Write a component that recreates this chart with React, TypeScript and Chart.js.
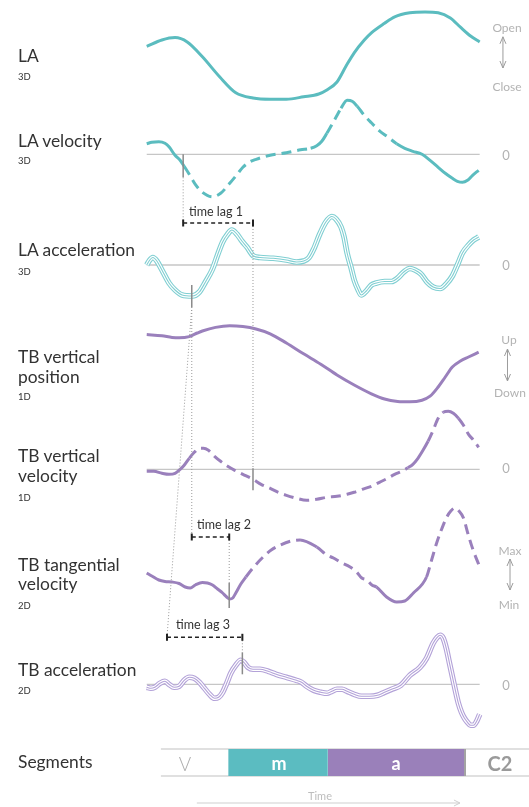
import React, { useEffect, useRef } from "react";
import { Chart, registerables } from "chart.js";

Chart.register(...registerables);

const WIDTH = 529;
const HEIGHT = 807;
const FONT = "Lato, 'Noto Sans', sans-serif";

// ---------- series data (time in ms, values in panel units) ----------
const laT = [0, 30, 56, 80, 110, 144, 176, 210, 244, 276, 310, 340, 356, 376, 394, 410, 430, 444, 470, 490, 520, 550, 576, 600, 620, 640, 658];
const laV = [6.7, 7.5, 7.8, 7.25, 5.4, 2.9, 0.9, 0.25, 0.1, 0.1, 0.4, 0.75, 1.25, 2.25, 4.25, 5.9, 7.5, 8.4, 9.6, 10.4, 10.9, 11.0, 10.9, 10.25, 9.1, 8.0, 7.25];

const laVelT = [0, 10, 24, 36, 44, 56, 66, 74, 84, 96, 110, 130, 146, 164, 178, 190, 204, 216, 244, 276, 304, 324, 336, 346, 356, 364, 374, 384, 396, 406, 416, 430, 444, 460, 476, 494, 510, 526, 544, 560, 576, 590, 604, 614, 624, 634, 644, 656];
const laVelV = [1.05, 1.2, 1.25, 1.1, 0.75, -0.1, -0.6, -1.2, -2.0, -3.0, -3.8, -4.25, -3.9, -2.9, -2.05, -1.3, -0.75, -0.5, -0.1, 0.15, 0.45, 0.6, 0.85, 1.3, 2.1, 2.8, 3.7, 4.6, 5.4, 5.3, 4.8, 3.9, 3.15, 2.35, 1.75, 1.05, 0.6, 0.3, 0.0, -0.6, -1.3, -1.9, -2.4, -2.7, -2.8, -2.6, -2.1, -1.6];
const laVelDashed = [[72, 316], [356, 382], [422, 500]];

const laAccT = [0, 6, 12, 20, 30, 44, 56, 70, 90, 104, 116, 130, 140, 150, 160, 168, 178, 188, 198, 211, 224, 250, 276, 296, 310, 320, 330, 342, 354, 366, 374, 384, 390, 396, 404, 410, 418, 424, 434, 444, 454, 470, 484, 496, 508, 520, 530, 542, 554, 566, 580, 592, 604, 614, 624, 636, 646, 656];
const laAccV = [0.0, 0.5, 0.75, 0.4, -0.5, -1.8, -2.5, -3.0, -3.1, -2.7, -1.7, -0.4, 1.0, 2.3, 3.1, 3.5, 3.1, 2.4, 1.8, 0.9, 0.75, 0.67, 0.5, 0.3, 0.4, 0.7, 1.6, 3.1, 4.3, 4.85, 4.6, 3.8, 2.8, 1.2, -0.3, -1.5, -2.5, -3.0, -2.6, -2.0, -1.8, -1.65, -1.65, -1.3, -0.7, -0.35, -0.5, -0.9, -1.7, -2.2, -2.35, -1.9, -1.1, 0.0, 1.2, 2.0, 2.5, 2.8];

const tbPosT = [0, 30, 50, 64, 84, 100, 110, 136, 164, 190, 216, 244, 276, 310, 344, 376, 410, 444, 470, 496, 520, 544, 560, 576, 590, 604, 620, 636, 656];
const tbPosV = [8.8, 8.65, 8.45, 8.4, 8.55, 9.0, 9.25, 9.7, 9.9, 9.8, 9.5, 8.9, 7.75, 6.4, 5.1, 3.75, 2.5, 1.4, 0.75, 0.45, 0.4, 0.6, 1.1, 2.25, 3.5, 4.75, 5.5, 6.0, 6.6];

const tbVelT = [0, 14, 30, 44, 56, 66, 74, 84, 94, 104, 112, 122, 134, 146, 160, 174, 190, 210, 226, 244, 260, 276, 296, 316, 336, 356, 376, 396, 410, 426, 444, 460, 476, 490, 504, 516, 526, 536, 546, 556, 566, 576, 586, 596, 606, 616, 626, 636, 646, 656];
const tbVelV = [-0.2, -0.2, -0.4, -0.5, -0.4, 0.0, 0.4, 1.1, 1.7, 2.1, 2.1, 1.9, 1.3, 0.8, 0.3, -0.1, -0.5, -1.0, -1.5, -1.9, -2.3, -2.6, -2.9, -3.1, -3.0, -2.8, -2.7, -2.5, -2.3, -2.0, -1.7, -1.3, -0.9, -0.5, -0.2, 0.15, 0.5, 1.1, 1.9, 2.8, 3.9, 5.1, 5.7, 5.8, 5.6, 5.1, 4.4, 3.5, 2.9, 2.2];
const tbVelDashed = [[84, 520], [553, 586], [619, 660]];

const tbTanT = [0, 10, 24, 36, 50, 64, 76, 86, 96, 110, 120, 130, 140, 150, 158, 164, 170, 176, 186, 196, 210, 230, 246, 264, 286, 303, 336, 356, 369, 382, 402, 415, 425, 435, 445, 454, 474, 494, 510, 527, 553, 563, 573, 583, 593, 601, 609, 617, 626, 635, 645, 659];
const tbTanV = [3.2, 2.9, 2.5, 2.35, 2.3, 2.15, 1.8, 1.7, 2.0, 2.25, 2.2, 2.0, 1.6, 1.2, 0.8, 0.6, 0.7, 1.2, 2.1, 2.8, 3.7, 4.8, 5.5, 6.0, 6.4, 6.5, 5.8, 5.0, 4.7, 4.3, 3.8, 3.3, 2.7, 2.5, 2.0, 1.8, 0.8, 0.3, 0.4, 1.2, 2.8, 4.5, 6.2, 7.6, 8.8, 9.4, 9.7, 9.4, 8.7, 7.1, 5.5, 3.7];
const tbTanDashed = [[196, 303], [336, 454], [553, 660]];

const tbAccT = [0, 8, 16, 26, 36, 44, 54, 64, 74, 84, 94, 104, 114, 124, 134, 142, 150, 158, 166, 176, 186, 192, 200, 210, 224, 240, 256, 276, 296, 306, 316, 330, 344, 356, 366, 376, 386, 396, 410, 424, 440, 456, 470, 484, 502, 520, 540, 553, 566, 574, 580, 586, 592, 598, 604, 610, 616, 622, 628, 634, 640, 646, 652, 658];
const tbAccV = [-0.3, -0.4, -0.3, 0.1, 0.3, 0.0, -0.3, -0.2, 0.4, 0.7, 0.6, 0.2, -0.4, -1.0, -1.4, -1.3, -0.8, 0.1, 1.1, 1.9, 2.4, 2.2, 1.7, 1.5, 1.5, 1.3, 1.0, 0.7, 0.4, 0.2, -0.2, -0.6, -0.8, -0.9, -0.7, -0.5, -0.5, -0.7, -1.0, -1.2, -1.2, -1.1, -0.8, -0.5, -0.1, 0.9, 1.7, 2.6, 4.1, 4.7, 4.9, 4.6, 3.6, 2.2, 0.8, -0.6, -1.9, -2.8, -3.4, -3.8, -4.1, -4.1, -3.7, -3.0];

const zeroSpan = [0, 658];

// segments (time boundaries) and names
const segBounds = [28, 161, 358, 629, 755.5];
const segNames = ["V", "m", "a", "C2"];
const timeArrowSpan = [99, 619];

// time-lag annotations
const markers = [
  { t: 72, axis: "yLAv", from: 0, to: -2.3 },
  { t: 89, axis: "yLAa", from: -2.0, to: -4.2 },
  { t: 210, axis: "yTBv", from: 0.1, to: -2.1 },
  { t: 163, axis: "yTBt", from: 2.2, to: -0.3 },
  { t: 189, axis: "yTBa", from: 3.2, to: 1.0 },
];
const connectors = [
  { a: [72, "yLAv", -2.3], b: [72, "yLAa", 4.2] },
  { a: [210, "yLAa", 4.2], b: [210, "yTBv", 0.1] },
  { a: [89, "yLAa", -4.2], b: [89, "yTBt", 6.8] },
  { a: [89, "yLAa", -4.2], b: [40, "yTBa", 4.7] },
  { a: [163, "yTBt", 6.8], b: [163, "yTBt", 2.2] },
  { a: [189, "yTBa", 4.7], b: [189, "yTBa", 3.2] },
];
const lagBrackets = [
  { t0: 72, t1: 210, axis: "yLAa", v: 4.2 },
  { t0: 89, t1: 163, axis: "yTBt", v: 6.8 },
  { t0: 40, t1: 189, axis: "yTBa", v: 4.7 },
];
const rangeArrows = [
  { t: 704, axis: "yLA", top: 7.9, bottom: 4.0 },
  { t: 713, axis: "yTBp", top: 7.0, bottom: 3.0 },
  { t: 718, axis: "yTBt", top: 4.6, bottom: 1.5 },
];

// text
const leftLabels = [
  { text: "LA", y: 56, size: 17.4 },
  { text: "3D", y: 77, size: 9.5 },
  { text: "LA velocity", y: 141, size: 17.4 },
  { text: "3D", y: 161, size: 9.5 },
  { text: "LA acceleration", y: 250, size: 17.4 },
  { text: "3D", y: 272, size: 9.5 },
  { text: "TB vertical", y: 357, size: 17.4 },
  { text: "position", y: 377, size: 17.4 },
  { text: "1D", y: 397, size: 9.5 },
  { text: "TB vertical", y: 456, size: 17.4 },
  { text: "velocity", y: 476, size: 17.4 },
  { text: "1D", y: 498, size: 9.5 },
  { text: "TB tangential", y: 565, size: 17.4 },
  { text: "velocity", y: 584, size: 17.4 },
  { text: "2D", y: 606, size: 9.5 },
  { text: "TB acceleration", y: 670, size: 17.4 },
  { text: "2D", y: 691, size: 9.5 },
  { text: "Segments", y: 762, size: 17.4 },
];
const rightLabels = [
  { text: "Open", x: 507, y: 28 },
  { text: "Close", x: 507, y: 87 },
  { text: "0", x: 506, y: 155 },
  { text: "0", x: 506, y: 265 },
  { text: "Up", x: 509, y: 340 },
  { text: "Down", x: 510, y: 393 },
  { text: "0", x: 506, y: 468 },
  { text: "Max", x: 510, y: 551 },
  { text: "Min", x: 509, y: 605 },
  { text: "0", x: 506, y: 685 },
];
const lagLabels = [
  { text: "time lag 1", x: 189, y: 212 },
  { text: "time lag 2", x: 197, y: 525 },
  { text: "time lag 3", x: 176, y: 625 },
];

// ---------- colours ----------
const TEAL = "#5bbcbf";
const PURPLE = "#9a80bc";
const TEAL_LIGHT = "#80cfd2";
const PURPLE_LIGHT = "#b3a2d8";

const pts = (ts: number[], vs: number[]) => ts.map((t, i) => ({ x: t, y: vs[i] }));
const band = (zeroPx: number, pxPerUnit: number) => ({
  type: "linear" as const,
  display: false,
  min: (zeroPx - HEIGHT) / pxPerUnit,
  max: zeroPx / pxPerUnit,
});

const dashIn = (ranges: number[][]) => ({
  borderDash: (c: any) => {
    const m = (c.p0.parsed.x + c.p1.parsed.x) / 2;
    return ranges.some(([a, b]) => m >= a && m <= b) ? [10, 6] : undefined;
  },
});

const curve = (data: any[], axis: string, color: string, width: number, order: number, extra: any = {}) => ({
  type: "line" as const,
  data,
  yAxisID: axis,
  borderColor: color,
  borderWidth: width,
  pointRadius: 0,
  fill: false,
  cubicInterpolationMode: "monotone" as const,
  borderCapStyle: "butt" as const,
  borderJoinStyle: "round" as const,
  order,
  ...extra,
});

const triple = (data: any[], axis: string, color: string) => [
  curve(data, axis, color, 5.6, 4),
  curve(data, axis, "#ffffff", 3.4, 3),
  curve(data, axis, color, 1.1, 2),
];

const zeroLine = (axis: string) =>
  curve(
    [
      { x: zeroSpan[0], y: 0 },
      { x: zeroSpan[1], y: 0 },
    ],
    axis,
    "#c6c6c6",
    1.3,
    50
  );

const decorPlugin = {
  id: "decor",
  afterDatasetsDraw(chart: any) {
    const { ctx, scales } = chart;
    const px = (t: number) => scales.x.getPixelForValue(t);
    const py = (axis: string, v: number) => scales[axis].getPixelForValue(v);
    const seg = (x0: number, y0: number, x1: number, y1: number) => {
      ctx.beginPath();
      ctx.moveTo(x0, y0);
      ctx.lineTo(x1, y1);
      ctx.stroke();
    };
    ctx.save();
    // dotted connectors
    ctx.strokeStyle = "#9a9a9a";
    ctx.lineWidth = 1;
    ctx.setLineDash([1, 2]);
    for (const c of connectors) {
      seg(px(c.a[0] as number), py(c.a[1] as string, c.a[2] as number), px(c.b[0] as number), py(c.b[1] as string, c.b[2] as number));
    }
    // markers
    ctx.setLineDash([]);
    ctx.strokeStyle = "#8a8a8a";
    ctx.lineWidth = 1.5;
    for (const m of markers) {
      seg(px(m.t), py(m.axis, m.from), px(m.t), py(m.axis, m.to));
    }
    // lag brackets
    ctx.strokeStyle = "#222222";
    for (const b of lagBrackets) {
      const y = py(b.axis, b.v);
      const x0 = px(b.t0);
      const x1 = px(b.t1);
      ctx.lineWidth = 1.5;
      ctx.setLineDash([4, 3]);
      seg(x0, y, x1, y);
      ctx.setLineDash([]);
      ctx.lineWidth = 2;
      seg(x0, y - 3.5, x0, y + 3.5);
      seg(x1, y - 3.5, x1, y + 3.5);
    }
    // range double arrows
    ctx.strokeStyle = "#9c9c9c";
    ctx.lineWidth = 1;
    for (const a of rangeArrows) {
      const x = px(a.t);
      const y0 = py(a.axis, a.top);
      const y1 = py(a.axis, a.bottom);
      seg(x, y0, x, y1);
      ctx.beginPath();
      ctx.moveTo(x - 3, y0 + 7);
      ctx.lineTo(x, y0);
      ctx.lineTo(x + 3, y0 + 7);
      ctx.stroke();
      ctx.beginPath();
      ctx.moveTo(x - 3, y1 - 7);
      ctx.lineTo(x, y1);
      ctx.lineTo(x + 3, y1 - 7);
      ctx.stroke();
    }
    // time arrow
    ctx.strokeStyle = "#cfcfcf";
    const ty = py("ySeg", -1);
    const tx0 = px(timeArrowSpan[0]);
    const tx1 = px(timeArrowSpan[1]);
    seg(tx0, ty, tx1, ty);
    ctx.beginPath();
    ctx.moveTo(tx1 - 6, ty - 3);
    ctx.lineTo(tx1, ty);
    ctx.lineTo(tx1 - 6, ty + 3);
    ctx.stroke();
    ctx.restore();
  },
};

const Txt = ({ x, y, size, color, weight = 400, center = false, children }: any) => (
  <div
    style={{
      position: "absolute",
      left: x,
      top: y,
      transform: center ? "translate(-50%, -50%)" : "translateY(-50%)",
      fontSize: size,
      lineHeight: 1,
      color,
      fontWeight: weight,
      whiteSpace: "nowrap",
      fontFamily: FONT,
    }}
  >
    {children}
  </div>
);

export default function App() {
  const canvasRef = useRef<HTMLCanvasElement | null>(null);

  useEffect(() => {
    if (!canvasRef.current) return;
    const segBox = (i: number, color: string) =>
      curve(
        [
          { x: segBounds[i], y: 1 },
          { x: segBounds[i + 1], y: 1 },
        ],
        "ySeg",
        "rgba(0,0,0,0)",
        0,
        30,
        { fill: { value: 0 }, backgroundColor: color, cubicInterpolationMode: "default", tension: 0 }
      );
    const segEdge = (v: number) =>
      curve(
        [
          { x: segBounds[0], y: v },
          { x: segBounds[4], y: v },
        ],
        "ySeg",
        "#d6d6d6",
        1.5,
        40
      );

    const datasets: any[] = [
      zeroLine("yLAv"),
      zeroLine("yLAa"),
      zeroLine("yTBv"),
      zeroLine("yTBa"),
      curve(pts(laT, laV), "yLA", TEAL, 3, 1),
      curve(pts(laVelT, laVelV), "yLAv", TEAL, 3, 1, { segment: dashIn(laVelDashed) }),
      ...triple(pts(laAccT, laAccV), "yLAa", TEAL_LIGHT),
      curve(pts(tbPosT, tbPosV), "yTBp", PURPLE, 3, 1),
      curve(pts(tbVelT, tbVelV), "yTBv", PURPLE, 3, 1, { segment: dashIn(tbVelDashed) }),
      curve(pts(tbTanT, tbTanV), "yTBt", PURPLE, 3, 1, { segment: dashIn(tbTanDashed) }),
      ...triple(pts(tbAccT, tbAccV), "yTBa", PURPLE_LIGHT),
      segEdge(1),
      segEdge(0),
      segBox(1, "#5bbcc1"),
      segBox(2, "#9a80ba"),
      curve(
        [
          { x: segBounds[3], y: 0 },
          { x: segBounds[3], y: 1 },
        ],
        "ySeg",
        "#a3a3a3",
        2,
        20
      ),
    ];

    const chart = new Chart(canvasRef.current, {
      type: "line",
      data: { datasets },
      plugins: [decorPlugin],
      options: {
        responsive: false,
        maintainAspectRatio: false,
        devicePixelRatio: 1,
        animation: false,
        layout: { padding: 0 },
        plugins: { legend: { display: false }, tooltip: { enabled: false } },
        events: [],
        scales: {
          x: { type: "linear", display: false, min: -290, max: 755.5 },
          yLA: band(100, 8),
          yLAv: band(154.3, 10),
          yLAa: band(265, 10),
          yTBp: band(405, 8),
          yTBv: band(469.3, 10),
          yTBt: band(605, 10),
          yTBa: band(684.3, 10),
          ySeg: band(776, 27),
        },
      } as any,
    });
    return () => chart.destroy();
  }, []);

  const segCenters = [185, 279, 396, 500];
  const segStyles = [
    { color: "#adadad", weight: 300, size: 19 },
    { color: "#ffffff", weight: 700, size: 18 },
    { color: "#ffffff", weight: 700, size: 18 },
    { color: "#9a9a9a", weight: 700, size: 20 },
  ];

  return (
    <div style={{ position: "fixed", left: 0, top: 0, width: WIDTH, height: HEIGHT, background: "#ffffff", overflow: "hidden" }}>
      <canvas ref={canvasRef} width={WIDTH} height={HEIGHT} style={{ position: "absolute", left: 0, top: 0, width: WIDTH, height: HEIGHT }} />
      {leftLabels.map((l, i) => (
        <Txt key={"l" + i} x={18} y={l.y} size={l.size} color="#333333">
          {l.text}
        </Txt>
      ))}
      {rightLabels.map((l, i) => (
        <Txt key={"r" + i} x={l.x} y={l.y} size={l.text === "0" ? 13 : 12} color="#b3b3b3" center>
          {l.text}
        </Txt>
      ))}
      {lagLabels.map((l, i) => (
        <Txt key={"g" + i} x={l.x} y={l.y} size={12.5} color="#333333">
          {l.text}
        </Txt>
      ))}
      {segNames.map((n, i) => (
        <Txt key={"s" + i} x={segCenters[i]} y={763} size={segStyles[i].size} color={segStyles[i].color} weight={segStyles[i].weight} center>
          {n}
        </Txt>
      ))}
      <Txt x={320} y={795} size={11} color="#bdbdbd" center>
        Time
      </Txt>
    </div>
  );
}
